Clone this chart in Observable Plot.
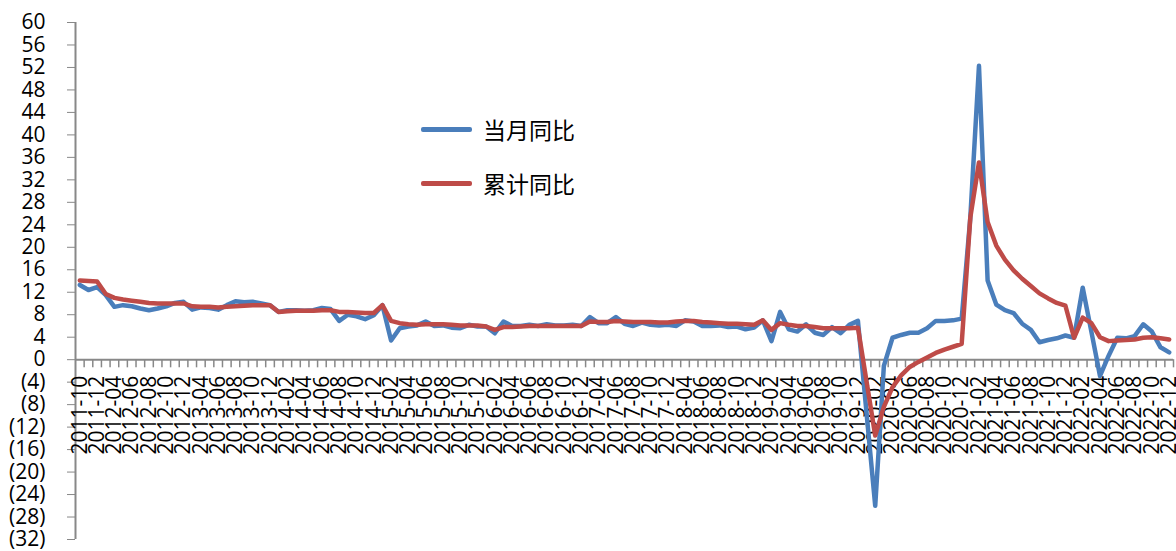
<!DOCTYPE html>
<html><head><meta charset="utf-8">
<script src="https://cdn.jsdelivr.net/npm/d3@7"></script>
<script src="https://cdn.jsdelivr.net/npm/@observablehq/plot@0.6"></script>
<style>
html,body{margin:0;padding:0;background:#fff;}
#chart{position:relative;width:1176px;height:551px;overflow:hidden;}
#chart svg text{fill:#000;}
.legend{position:absolute;left:421px;height:32px;font-family:"Noto Sans CJK SC","Noto Sans",sans-serif;font-size:23px;color:#000;display:flex;align-items:center;white-space:nowrap;}
.legend .sw{width:51px;height:5px;margin-right:11px;border-radius:2px;}
</style></head><body>
<div id="chart"></div>
<script>
// categories (months present in the source table)
const months = [
"2011-10","2011-11","2011-12",
"2012-03","2012-04","2012-05","2012-06","2012-07","2012-08","2012-09","2012-10","2012-11","2012-12",
"2013-03","2013-04","2013-05","2013-06","2013-07","2013-08","2013-09","2013-10","2013-11","2013-12",
"2014-01","2014-02","2014-03","2014-04","2014-05","2014-06","2014-07","2014-08","2014-09","2014-10","2014-11","2014-12",
"2015-01","2015-02","2015-03","2015-04","2015-05","2015-06","2015-07","2015-08","2015-09","2015-10","2015-11","2015-12",
"2016-01","2016-02","2016-03","2016-04","2016-05","2016-06","2016-07","2016-08","2016-09","2016-10","2016-11","2016-12",
"2017-03","2017-04","2017-05","2017-06","2017-07","2017-08","2017-09","2017-10","2017-11","2017-12",
"2018-03","2018-04","2018-05","2018-06","2018-07","2018-08","2018-09","2018-10","2018-11","2018-12",
"2019-01","2019-02","2019-03","2019-04","2019-05","2019-06","2019-07","2019-08","2019-09","2019-10","2019-11","2019-12",
"2020-01","2020-02","2020-03","2020-04","2020-05","2020-06","2020-07","2020-08","2020-09","2020-10","2020-11","2020-12",
"2021-01","2021-02","2021-03","2021-04","2021-05","2021-06","2021-07","2021-08","2021-09","2021-10","2021-11","2021-12",
"2022-01","2022-02","2022-03","2022-04","2022-05","2022-06","2022-07","2022-08","2022-09","2022-10","2022-11","2022-12"
];
// 当月同比
const current = [
13.3,12.4,12.9,
11.5,9.4,9.7,9.5,9.1,8.8,9.1,9.5,10.1,10.3,
8.9,9.3,9.2,8.9,9.7,10.4,10.2,10.3,10.0,9.7,
8.5,8.8,8.8,8.7,8.8,9.2,9.0,6.9,8.0,7.7,7.2,7.9,
9.7,3.4,5.6,5.9,6.1,6.8,6.0,6.1,5.7,5.6,6.2,5.9,
5.9,4.7,6.8,6.0,6.0,6.2,6.0,6.3,6.1,6.1,6.2,6.0,
7.6,6.5,6.5,7.6,6.4,6.0,6.6,6.2,6.1,6.2,
6.0,7.0,6.8,6.0,6.0,6.1,5.8,5.9,5.4,5.7,
7.0,3.3,8.5,5.4,5.0,6.3,4.8,4.4,5.8,4.7,6.2,6.9,
null,-26.0,-1.1,3.9,4.4,4.8,4.8,5.6,6.9,6.9,7.0,7.3,
25.3,52.3,14.1,9.8,8.8,8.3,6.4,5.3,3.1,3.5,3.8,4.3,
3.9,12.8,5.0,-2.9,0.7,3.9,3.8,4.2,6.3,5.0,2.2,1.3
];
// 累计同比
const cumulative = [
14.1,14.0,13.9,
11.7,11.0,10.7,10.5,10.3,10.1,10.0,10.0,10.0,10.0,
9.5,9.4,9.4,9.3,9.4,9.5,9.6,9.7,9.7,9.7,
8.5,8.6,8.7,8.7,8.7,8.8,8.8,8.5,8.5,8.4,8.3,8.3,
9.7,6.9,6.5,6.3,6.2,6.3,6.3,6.3,6.2,6.1,6.1,6.1,
5.9,5.3,5.8,5.8,5.9,6.0,6.0,6.0,6.0,6.0,6.0,6.0,
6.8,6.7,6.7,6.9,6.8,6.7,6.7,6.7,6.6,6.6,
6.8,6.9,6.9,6.7,6.6,6.5,6.4,6.4,6.3,6.2,
7.0,5.3,6.5,6.2,6.0,6.0,5.8,5.6,5.6,5.6,5.6,5.7,
null,-13.5,-8.4,-4.9,-2.8,-1.3,-0.4,0.4,1.2,1.8,2.3,2.8,
25.3,35.1,24.5,20.3,17.8,15.9,14.4,13.1,11.8,10.9,10.1,9.6,
3.9,7.5,6.5,4.0,3.3,3.4,3.5,3.6,3.9,4.0,3.8,3.6
];
const yTicks = [-32,-28,-24,-20,-16,-12,-8,-4,0,4,8,12,16,20,24,28,32,36,40,44,48,52,56,60];
const seriesNames = ["当月同比","累计同比"];
const colors = ["#4A7EBB","#BE4B48"];

const toRows = arr => arr.map((v, i) => ({i, v})).filter(d => d.v != null);
const labelIdx = months.map((m, i) => i).filter(i => i % 2 === 0);
const bounds = months.map((m, i) => i + 0.5);
const axisGray = "#888888";

const chart = Plot.plot({
  width: 1176, height: 551,
  marginLeft: 75, marginRight: 3, marginTop: 22, marginBottom: 12,
  style: {fontFamily: "'Open Sans', sans-serif", fontSize: "21px", color: axisGray, background: "#fff", overflow: "visible"},
  x: {domain: [-0.5, months.length - 0.5], axis: null},
  y: {domain: [-32, 60], ticks: yTicks, tickFormat: d => d < 0 ? `(${-d})` : `${d}`, tickSize: 8, tickPadding: 22, label: null},
  marks: [
    Plot.ruleX([-0.5], {stroke: axisGray, strokeWidth: 2}),
    Plot.ruleY([0], {stroke: axisGray, strokeWidth: 2}),
    Plot.ruleX(bounds, {x: d => d, y1: 0, y2: -1.45, stroke: axisGray, strokeWidth: 1.5}),
    Plot.text(labelIdx, {x: d => d, y: 0, text: d => months[d], rotate: -90, textAnchor: "end", lineAnchor: "middle", dy: 16, fontSize: 21, fill: "#000", fontFamily: "'Open Sans', sans-serif"}),
    Plot.line(toRows(current), {x: "i", y: "v", stroke: colors[0], strokeWidth: 4.5, strokeLinejoin: "round", strokeLinecap: "round"}),
    Plot.line(toRows(cumulative), {x: "i", y: "v", stroke: colors[1], strokeWidth: 4.5, strokeLinejoin: "round", strokeLinecap: "round"})
  ]
});
const host = document.getElementById("chart");
host.appendChild(chart);
// legend
[[seriesNames[0], colors[0], 113], [seriesNames[1], colors[1], 167]].forEach(([name, c, top]) => {
  const d = document.createElement("div");
  d.className = "legend";
  d.style.top = top + "px";
  d.innerHTML = `<span class="sw" style="background:${c}"></span><span>${name}</span>`;
  host.appendChild(d);
});
</script>
</body></html>
